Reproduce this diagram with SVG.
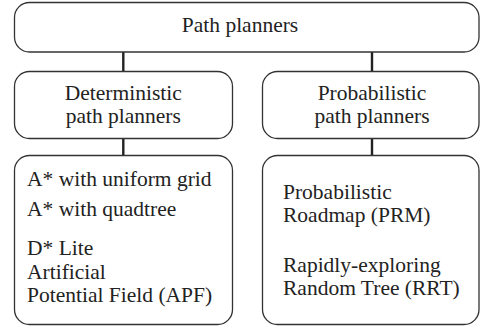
<svg xmlns="http://www.w3.org/2000/svg" width="481" height="331" viewBox="0 0 481 331">
<style>
.box{fill:#fff;stroke:#333;stroke-width:1.3}
.conn{stroke:#222;stroke-width:2.4;fill:none}
text{font-family:"Liberation Serif","Times New Roman",serif;font-size:21.5px;fill:#222}
.c{text-anchor:middle}
</style>
<rect width="481" height="331" fill="#fff"/>
<g id="connectors">
<line class="conn" x1="123.3" y1="52" x2="123.3" y2="71.5"/>
<line class="conn" x1="372" y1="52" x2="372" y2="71.5"/>
<line class="conn" x1="123.3" y1="138.5" x2="123.3" y2="155.5"/>
<line class="conn" x1="372" y1="138.5" x2="372" y2="155.5"/>
</g>
<g id="root">
<rect class="box" x="14.5" y="2.5" width="464.5" height="49.5" rx="15"/>
<text class="c" x="240" y="32">Path planners</text>
</g>
<g id="deterministic">
<rect class="box" x="14.5" y="71.5" width="218" height="67" rx="15"/>
<text class="c" x="123.3" y="100">Deterministic</text>
<text class="c" x="123.3" y="123">path planners</text>
</g>
<g id="probabilistic">
<rect class="box" x="262.5" y="71.5" width="216.5" height="67" rx="15"/>
<text class="c" x="372" y="100">Probabilistic</text>
<text class="c" x="372" y="123">path planners</text>
</g>
<g id="deterministic-list">
<rect class="box" x="14.5" y="155.5" width="218" height="169" rx="15"/>
<text x="27" y="186">A* with uniform grid</text>
<text x="27" y="216">A* with quadtree</text>
<text x="27" y="255">D* Lite</text>
<text x="27" y="279">Artificial</text>
<text x="27" y="302">Potential Field (APF)</text>
</g>
<g id="probabilistic-list">
<rect class="box" x="262.5" y="155.5" width="216.5" height="169" rx="15"/>
<text x="283" y="199">Probabilistic</text>
<text x="283" y="222">Roadmap (PRM)</text>
<text x="283" y="272">Rapidly-exploring</text>
<text x="283" y="295">Random Tree (RRT)</text>
</g>
</svg>
